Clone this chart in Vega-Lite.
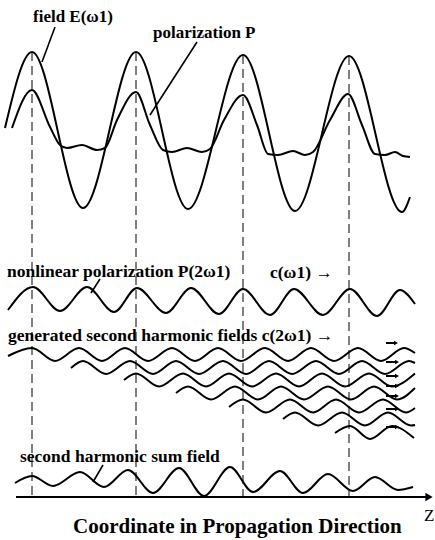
{
  "$schema": "https://vega.github.io/schema/vega-lite/v6.json",
  "width": 435,
  "height": 540,
  "padding": 0,
  "autosize": {"type": "none"},
  "background": "white",
  "config": {"view": {"stroke": null}},
  "datasets": {
    "curves": [
      {"s": "E", "x": 5, "y": 128}, {"s": "E", "x": 32, "y": 52}, {"s": "E", "x": 83, "y": 208}, {"s": "E", "x": 136, "y": 52},
      {"s": "E", "x": 188, "y": 209}, {"s": "E", "x": 243, "y": 55}, {"s": "E", "x": 295, "y": 211}, {"s": "E", "x": 349, "y": 56},
      {"s": "E", "x": 402, "y": 212}, {"s": "E", "x": 410, "y": 197},

      {"s": "P", "x": 12, "y": 128}, {"s": "P", "x": 32, "y": 90}, {"s": "P", "x": 50, "y": 127}, {"s": "P", "x": 60, "y": 145},
      {"s": "P", "x": 67, "y": 148}, {"s": "P", "x": 82, "y": 145}, {"s": "P", "x": 97, "y": 150}, {"s": "P", "x": 105, "y": 148},
      {"s": "P", "x": 117, "y": 120}, {"s": "P", "x": 136, "y": 92}, {"s": "P", "x": 150, "y": 125}, {"s": "P", "x": 163, "y": 150},
      {"s": "P", "x": 172, "y": 152}, {"s": "P", "x": 187, "y": 148}, {"s": "P", "x": 202, "y": 152}, {"s": "P", "x": 210, "y": 149},
      {"s": "P", "x": 224, "y": 120}, {"s": "P", "x": 243, "y": 95}, {"s": "P", "x": 257, "y": 125}, {"s": "P", "x": 268, "y": 154},
      {"s": "P", "x": 278, "y": 155}, {"s": "P", "x": 293, "y": 151}, {"s": "P", "x": 305, "y": 155}, {"s": "P", "x": 313, "y": 152},
      {"s": "P", "x": 330, "y": 120}, {"s": "P", "x": 348, "y": 94}, {"s": "P", "x": 362, "y": 125}, {"s": "P", "x": 375, "y": 154},
      {"s": "P", "x": 385, "y": 155}, {"s": "P", "x": 395, "y": 152}, {"s": "P", "x": 403, "y": 156}, {"s": "P", "x": 410, "y": 157},

      {"s": "P2", "x": 8, "y": 310}, {"s": "P2", "x": 33, "y": 287}, {"s": "P2", "x": 60, "y": 311}, {"s": "P2", "x": 87, "y": 287},
      {"s": "P2", "x": 114, "y": 312}, {"s": "P2", "x": 137, "y": 288}, {"s": "P2", "x": 166, "y": 313}, {"s": "P2", "x": 191, "y": 288},
      {"s": "P2", "x": 219, "y": 314}, {"s": "P2", "x": 243, "y": 289}, {"s": "P2", "x": 270, "y": 315}, {"s": "P2", "x": 294, "y": 289},
      {"s": "P2", "x": 323, "y": 315}, {"s": "P2", "x": 350, "y": 289}, {"s": "P2", "x": 377, "y": 316}, {"s": "P2", "x": 400, "y": 290},
      {"s": "P2", "x": 415, "y": 304},

      {"s": "g1", "x": 8, "y": 356}, {"s": "g1", "x": 32, "y": 348}, {"s": "g1", "x": 55, "y": 361}, {"s": "g1", "x": 79, "y": 348},
      {"s": "g1", "x": 102, "y": 361}, {"s": "g1", "x": 125, "y": 348}, {"s": "g1", "x": 148, "y": 361}, {"s": "g1", "x": 172, "y": 348},
      {"s": "g1", "x": 195, "y": 361}, {"s": "g1", "x": 218, "y": 348}, {"s": "g1", "x": 241, "y": 361}, {"s": "g1", "x": 265, "y": 348},
      {"s": "g1", "x": 288, "y": 361}, {"s": "g1", "x": 311, "y": 348}, {"s": "g1", "x": 334, "y": 361}, {"s": "g1", "x": 358, "y": 348},
      {"s": "g1", "x": 381, "y": 361}, {"s": "g1", "x": 404, "y": 348}, {"s": "g1", "x": 415, "y": 353},

      {"s": "g2", "x": 71, "y": 368}, {"s": "g2", "x": 83, "y": 361}, {"s": "g2", "x": 106, "y": 374}, {"s": "g2", "x": 130, "y": 361},
      {"s": "g2", "x": 153, "y": 374}, {"s": "g2", "x": 176, "y": 361}, {"s": "g2", "x": 199, "y": 374}, {"s": "g2", "x": 223, "y": 361},
      {"s": "g2", "x": 246, "y": 374}, {"s": "g2", "x": 269, "y": 361}, {"s": "g2", "x": 292, "y": 374}, {"s": "g2", "x": 316, "y": 361},
      {"s": "g2", "x": 339, "y": 374}, {"s": "g2", "x": 362, "y": 361}, {"s": "g2", "x": 385, "y": 374}, {"s": "g2", "x": 409, "y": 361},
      {"s": "g2", "x": 415, "y": 363},

      {"s": "g3", "x": 124, "y": 380}, {"s": "g3", "x": 136, "y": 373.5}, {"s": "g3", "x": 159, "y": 386.5}, {"s": "g3", "x": 183, "y": 373.5},
      {"s": "g3", "x": 206, "y": 386.5}, {"s": "g3", "x": 229, "y": 373.5}, {"s": "g3", "x": 252, "y": 386.5}, {"s": "g3", "x": 276, "y": 373.5},
      {"s": "g3", "x": 299, "y": 386.5}, {"s": "g3", "x": 322, "y": 373.5}, {"s": "g3", "x": 345, "y": 386.5}, {"s": "g3", "x": 369, "y": 373.5},
      {"s": "g3", "x": 392, "y": 386.5}, {"s": "g3", "x": 415, "y": 373.5},

      {"s": "g4", "x": 176, "y": 393}, {"s": "g4", "x": 188, "y": 386.5}, {"s": "g4", "x": 211, "y": 399.5}, {"s": "g4", "x": 235, "y": 386.5},
      {"s": "g4", "x": 258, "y": 399.5}, {"s": "g4", "x": 281, "y": 386.5}, {"s": "g4", "x": 304, "y": 399.5}, {"s": "g4", "x": 328, "y": 386.5},
      {"s": "g4", "x": 351, "y": 399.5}, {"s": "g4", "x": 374, "y": 386.5}, {"s": "g4", "x": 397, "y": 399.5}, {"s": "g4", "x": 415, "y": 388},

      {"s": "g5", "x": 229, "y": 407}, {"s": "g5", "x": 243, "y": 399.5}, {"s": "g5", "x": 266, "y": 412.5}, {"s": "g5", "x": 290, "y": 399.5},
      {"s": "g5", "x": 313, "y": 412.5}, {"s": "g5", "x": 336, "y": 399.5}, {"s": "g5", "x": 359, "y": 412.5}, {"s": "g5", "x": 383, "y": 399.5},
      {"s": "g5", "x": 406, "y": 412.5}, {"s": "g5", "x": 415, "y": 408},

      {"s": "g6", "x": 283, "y": 419}, {"s": "g6", "x": 295, "y": 412.5}, {"s": "g6", "x": 318, "y": 425.5}, {"s": "g6", "x": 342, "y": 412.5},
      {"s": "g6", "x": 365, "y": 425.5}, {"s": "g6", "x": 388, "y": 412.5}, {"s": "g6", "x": 411, "y": 425.5}, {"s": "g6", "x": 415, "y": 425},

      {"s": "g7", "x": 335, "y": 433}, {"s": "g7", "x": 350, "y": 426}, {"s": "g7", "x": 370, "y": 439}, {"s": "g7", "x": 392, "y": 426},
      {"s": "g7", "x": 414, "y": 438},

      {"s": "sum", "x": 15, "y": 483}, {"s": "sum", "x": 32, "y": 476}, {"s": "sum", "x": 53, "y": 486}, {"s": "sum", "x": 80, "y": 472},
      {"s": "sum", "x": 104, "y": 487}, {"s": "sum", "x": 128, "y": 470}, {"s": "sum", "x": 153, "y": 493}, {"s": "sum", "x": 179, "y": 468},
      {"s": "sum", "x": 204, "y": 496}, {"s": "sum", "x": 230, "y": 467}, {"s": "sum", "x": 253, "y": 492}, {"s": "sum", "x": 280, "y": 471},
      {"s": "sum", "x": 303, "y": 493}, {"s": "sum", "x": 328, "y": 474}, {"s": "sum", "x": 353, "y": 491}, {"s": "sum", "x": 375, "y": 477},
      {"s": "sum", "x": 398, "y": 490}, {"s": "sum", "x": 413, "y": 487}
    ],
    "crests": [
      {"x": 32, "y": 52, "y2": 497},
      {"x": 136, "y": 52, "y2": 497},
      {"x": 243, "y": 55, "y2": 497},
      {"x": 349, "y": 56, "y2": 497}
    ],
    "leaders": [
      {"x": 55, "y": 27, "x2": 42, "y2": 62},
      {"x": 197, "y": 42, "x2": 150, "y2": 115},
      {"x": 100, "y": 279, "x2": 91, "y2": 293},
      {"x": 103, "y": 465, "x2": 93, "y2": 482}
    ],
    "zaxis": [
      {"x": 16, "y": 497, "x2": 428, "y2": 497}
    ],
    "zhead": [
      {"x": 429, "y": 497}
    ],
    "shafts": [
      {"x": 386, "x2": 396, "y": 343},
      {"x": 386, "x2": 397, "y": 362},
      {"x": 386, "x2": 397, "y": 376},
      {"x": 386, "x2": 397, "y": 386},
      {"x": 386, "x2": 397, "y": 396},
      {"x": 386, "x2": 397, "y": 409},
      {"x": 386, "x2": 397, "y": 427}
    ],
    "labels": [
      {"kind": "heading", "x": 33, "y": 17, "label": "field E(ω1)"},
      {"kind": "heading", "x": 153, "y": 33, "label": "polarization P"},
      {"kind": "row", "x": 7, "y": 272, "label": "nonlinear polarization P(2ω1)"},
      {"kind": "row", "x": 270, "y": 273, "label": "c(ω1) →"},
      {"kind": "row", "x": 8, "y": 336, "label": "generated second harmonic fields c(2ω1) →"},
      {"kind": "row", "x": 20, "y": 457, "label": "second harmonic sum field"},
      {"kind": "title", "x": 73, "y": 527, "label": "Coordinate in Propagation Direction"},
      {"kind": "axis", "x": 424, "y": 516, "label": "Z"}
    ]
  },
  "layer": [
    {
      "data": {"name": "crests"},
      "mark": {"type": "rule", "color": "black", "strokeWidth": 1, "strokeDash": [9, 5]},
      "encoding": {
        "x": {"field": "x", "type": "quantitative", "scale": {"domain": [0, 435], "nice": false, "zero": false}, "axis": null},
        "y": {"field": "y", "type": "quantitative", "scale": {"domain": [0, 540], "nice": false, "zero": false, "reverse": true}, "axis": null},
        "y2": {"field": "y2"}
      }
    },
    {
      "data": {"name": "curves"},
      "mark": {"type": "line", "color": "black", "strokeWidth": 2, "interpolate": "monotone"},
      "encoding": {
        "x": {"field": "x", "type": "quantitative"},
        "y": {"field": "y", "type": "quantitative"},
        "detail": {"field": "s", "type": "nominal"}
      }
    },
    {
      "data": {"name": "leaders"},
      "mark": {"type": "rule", "color": "black", "strokeWidth": 1.6},
      "encoding": {
        "x": {"field": "x", "type": "quantitative"},
        "y": {"field": "y", "type": "quantitative"},
        "x2": {"field": "x2"},
        "y2": {"field": "y2"}
      }
    },
    {
      "data": {"name": "zaxis"},
      "mark": {"type": "rule", "color": "black", "strokeWidth": 2},
      "encoding": {
        "x": {"field": "x", "type": "quantitative"},
        "y": {"field": "y", "type": "quantitative"},
        "x2": {"field": "x2"},
        "y2": {"field": "y2"}
      }
    },
    {
      "data": {"name": "zhead"},
      "mark": {"type": "point", "shape": "triangle-right", "filled": true, "color": "black", "size": 70, "opacity": 1},
      "encoding": {
        "x": {"field": "x", "type": "quantitative"},
        "y": {"field": "y", "type": "quantitative"}
      }
    },
    {
      "data": {"name": "shafts"},
      "mark": {"type": "rule", "color": "black", "strokeWidth": 2},
      "encoding": {
        "x": {"field": "x", "type": "quantitative"},
        "x2": {"field": "x2"},
        "y": {"field": "y", "type": "quantitative"}
      }
    },
    {
      "data": {"name": "shafts"},
      "mark": {"type": "point", "shape": "triangle-right", "filled": true, "color": "black", "size": 22, "opacity": 1},
      "encoding": {
        "x": {"field": "x2", "type": "quantitative"},
        "y": {"field": "y", "type": "quantitative"}
      }
    },
    {
      "data": {"name": "labels"},
      "transform": [{"filter": "datum.kind === 'heading'"}],
      "mark": {"type": "text", "font": "Liberation Serif", "fontWeight": "bold", "fontSize": 17, "align": "left", "baseline": "middle", "color": "black"},
      "encoding": {
        "x": {"field": "x", "type": "quantitative"},
        "y": {"field": "y", "type": "quantitative"},
        "text": {"field": "label"}
      }
    },
    {
      "data": {"name": "labels"},
      "transform": [{"filter": "datum.kind === 'row'"}],
      "mark": {"type": "text", "font": "Liberation Serif", "fontWeight": "bold", "fontSize": 17.5, "align": "left", "baseline": "middle", "color": "black"},
      "encoding": {
        "x": {"field": "x", "type": "quantitative"},
        "y": {"field": "y", "type": "quantitative"},
        "text": {"field": "label"}
      }
    },
    {
      "data": {"name": "labels"},
      "transform": [{"filter": "datum.kind === 'title'"}],
      "mark": {"type": "text", "font": "Liberation Serif", "fontWeight": "bold", "fontSize": 21, "align": "left", "baseline": "middle", "color": "black"},
      "encoding": {
        "x": {"field": "x", "type": "quantitative"},
        "y": {"field": "y", "type": "quantitative"},
        "text": {"field": "label"}
      }
    },
    {
      "data": {"name": "labels"},
      "transform": [{"filter": "datum.kind === 'axis'"}],
      "mark": {"type": "text", "font": "Liberation Serif", "fontSize": 17, "align": "left", "baseline": "middle", "color": "black"},
      "encoding": {
        "x": {"field": "x", "type": "quantitative"},
        "y": {"field": "y", "type": "quantitative"},
        "text": {"field": "label"}
      }
    }
  ]
}
